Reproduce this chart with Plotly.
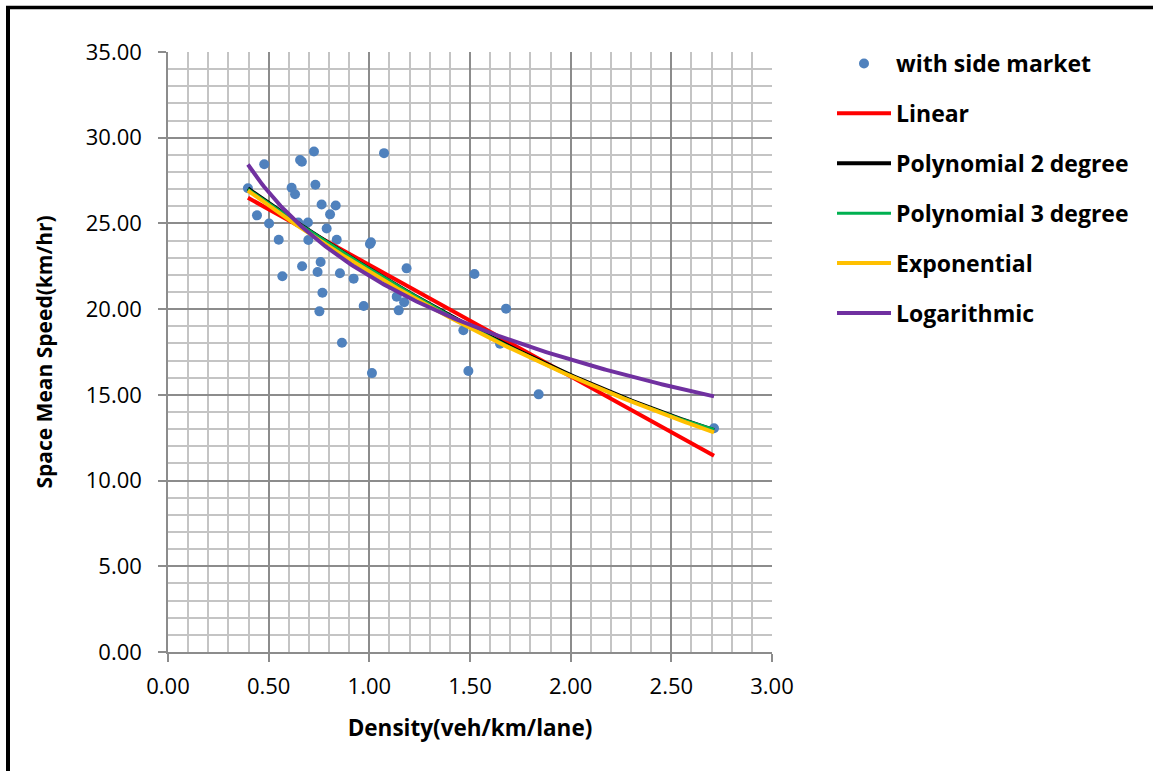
import numpy as np
import plotly.graph_objects as go

# ---- data ----
density = [0.397, 0.442, 0.478, 0.502, 0.550, 0.568, 0.614, 0.631, 0.647, 0.656,
           0.665, 0.666, 0.695, 0.697, 0.725, 0.732, 0.743, 0.752, 0.758, 0.763,
           0.767, 0.788, 0.805, 0.833, 0.838, 0.854, 0.864, 0.922, 0.972, 1.003,
           1.008, 1.013, 1.073, 1.136, 1.146, 1.173, 1.185, 1.467, 1.492, 1.522,
           1.649, 1.679, 1.841, 2.712]
speed = [27.05, 25.47, 28.45, 25.00, 24.05, 21.92, 27.08, 26.70, 25.05, 28.70,
         28.60, 22.50, 25.05, 24.03, 29.20, 27.26, 22.17, 19.87, 22.75, 26.10,
         20.96, 24.70, 25.53, 26.05, 24.05, 22.09, 18.04, 21.78, 20.18, 23.80,
         23.90, 16.27, 29.10, 20.73, 19.93, 20.40, 22.38, 18.77, 16.39, 22.05,
         17.98, 20.03, 15.03, 13.05]

x_ticks = [0.0, 0.5, 1.0, 1.5, 2.0, 2.5, 3.0]
y_ticks = [0, 5, 10, 15, 20, 25, 30, 35]

series_names = ["with side market", "Linear", "Polynomial 2 degree",
                "Polynomial 3 degree", "Exponential", "Logarithmic"]
colors = {"points": "#4F81BD", "Linear": "#FF0000", "Polynomial 2 degree": "#000000",
          "Polynomial 3 degree": "#00B050", "Exponential": "#FFC000",
          "Logarithmic": "#7030A0"}

# ---- trendlines fitted from the data (as the spreadsheet does) ----
xd = np.array(density)
yd = np.array(speed)
xs = np.linspace(xd.min(), xd.max(), 200)
lin = np.polyval(np.polyfit(xd, yd, 1), xs)
p2 = np.polyval(np.polyfit(xd, yd, 2), xs)
p3 = np.polyval(np.polyfit(xd, yd, 3), xs)
b, a = np.polyfit(xd, np.log(yd), 1)
expo = np.exp(a) * np.exp(b * xs)
lb, la = np.polyfit(np.log(xd), yd, 1)
logf = la + lb * np.log(xs)

fig = go.Figure()
fig.add_trace(go.Scatter(x=density, y=speed, mode="markers", name=series_names[0],
                         marker=dict(color=colors["points"], size=10),
                         legendgroup="a"))
for nm, yy, w, g in [("Linear", lin, 4, "b"), ("Polynomial 2 degree", p2, 4, "c"),
                     ("Polynomial 3 degree", p3, 3, "d"), ("Exponential", expo, 4, "e"),
                     ("Logarithmic", logf, 4, "f")]:
    fig.add_trace(go.Scatter(x=xs, y=yy, mode="lines", name=nm,
                             line=dict(color=colors[nm], width=w), legendgroup=g))

L, T, W, H = 168, 52, 604, 600
def px(xp):
    return (xp - L) / W
def py(yp):
    return (T + H - yp) / H

fig.update_layout(
    width=1153, height=771,
    margin=dict(l=L, r=1153 - L - W, t=T, b=771 - T - H, pad=0),
    paper_bgcolor="white", plot_bgcolor="white",
    font=dict(family="Open Sans", color="black", size=18),
    showlegend=True,
    legend=dict(x=px(832), y=py(42), xanchor="left", yanchor="top",
                font=dict(size=23, family="Open Sans", weight="bold"),
                tracegroupgap=17, itemwidth=54, bgcolor="rgba(0,0,0,0)"),
    xaxis=dict(range=[0, 3], tickvals=x_ticks, ticktext=[f"{v:.2f}" for v in x_ticks],
               showgrid=True, gridcolor="#8C8C8C", gridwidth=1.5,
               minor=dict(dtick=0.1, showgrid=True, gridcolor="#C4C4C4", gridwidth=1.5),
               showline=True, linecolor="#8C8C8C", linewidth=1.5,
               ticks="outside", ticklen=8, tickcolor="#8C8C8C", tickwidth=1.5,
               tickfont=dict(size=22), zeroline=False, ticklabelstandoff=6,
               title=dict(text="Density(veh/km/lane)", standoff=21,
                          font=dict(size=22.5, weight="bold"))),
    yaxis=dict(range=[0, 35], tickvals=y_ticks, ticktext=[f"{v:.2f}" for v in y_ticks],
               showgrid=True, gridcolor="#8C8C8C", gridwidth=1.5,
               minor=dict(dtick=1, showgrid=True, gridcolor="#C4C4C4", gridwidth=1.5),
               showline=True, linecolor="#8C8C8C", linewidth=1.5,
               ticks="outside", ticklen=8, tickcolor="#8C8C8C", tickwidth=1.5,
               tickfont=dict(size=22), zeroline=False, ticklabelstandoff=12,
               title=dict(text="Space Mean Speed(km/hr)", standoff=27,
                          font=dict(size=21, weight="bold"))),
    shapes=[
        dict(type="line", xref="paper", yref="paper", x0=px(8), x1=px(8),
             y0=py(6), y1=py(771), line=dict(color="black", width=4), layer="above"),
        dict(type="line", xref="paper", yref="paper", x0=px(6), x1=px(1153),
             y0=py(7.5), y1=py(7.5), line=dict(color="black", width=3.5), layer="above"),
    ],
)

fig.write_html("out.html")
